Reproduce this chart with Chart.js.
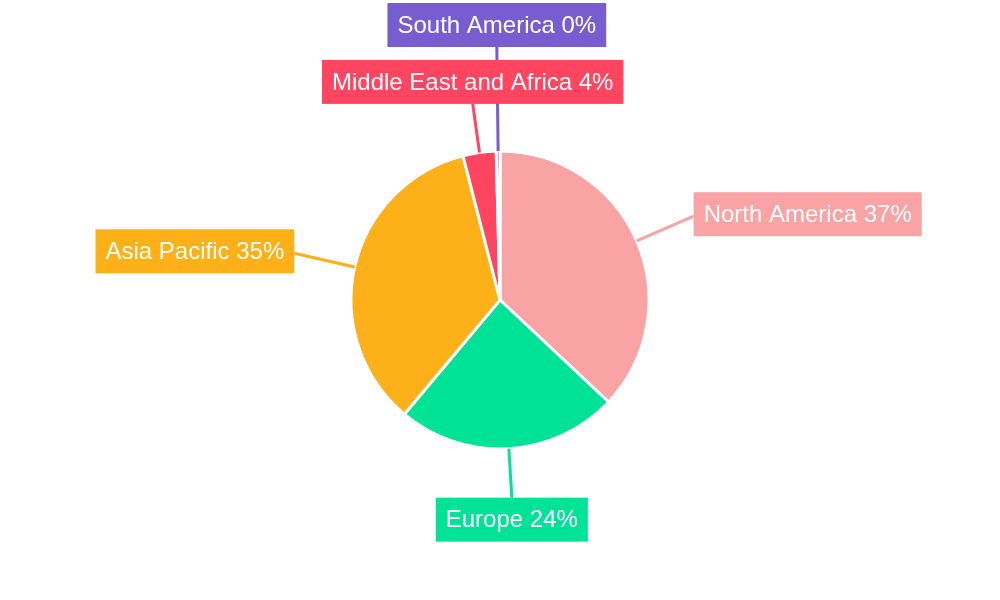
<!DOCTYPE html>
<html>
<head>
<meta charset="utf-8">
<script src="https://cdn.jsdelivr.net/npm/chart.js@4"></script>
<style>
  html, body { margin: 0; padding: 0; background: #fff; }
  #wrap { width: 1000px; height: 600px; }
</style>
</head>
<body>
<div id="wrap"><canvas id="regionChart" width="1000" height="600"></canvas></div>
<script>
const regions = ['North America', 'Europe', 'Asia Pacific', 'Middle East and Africa', 'South America'];
const shares = [37.0, 24.1, 34.9, 3.6, 0.4];
const colors = ['#F9A3A4', '#00E396', '#FEB019', '#FF4560', '#775DD0'];

const outsideLabels = {
  id: 'outside_labels',
  afterDraw: (chart) => {
    const {ctx} = chart;
    const meta = chart.getDatasetMeta(0);
    const total = shares.reduce((a, b) => a + b, 0);
    const placed = [];
    ctx.save();
    ctx.font = '24px "Liberation Sans", Arial, sans-serif';
    // work out every label box first
    meta.data.forEach((arc, i) => {
      const p = arc.getProps(['x', 'y', 'startAngle', 'endAngle', 'outerRadius'], true);
      const mid = (p.startAngle + p.endAngle) / 2;
      const dx = Math.cos(mid), dy = Math.sin(mid);
      const text = `${regions[i]} ${Math.round(shares[i] / total * 100)}%`;
      const w = ctx.measureText(text).width + 20;
      const h = 44;
      const sideways = Math.abs(dx) > Math.abs(dy);
      let r = sideways ? p.outerRadius + 62 : p.outerRadius + 49;
      const makeBox = (rr) => {
        const ax = p.x + dx * rr, ay = p.y + dy * rr;
        let bx, by;
        if (sideways) {
          bx = dx > 0 ? ax : ax - w;
          by = ay - h / 2 - 2;
        } else {
          bx = ax - w / 2;
          by = dy > 0 ? ay : ay - h;
        }
        return {ax, ay, bx, by};
      };
      const hits = (b) => placed.some(o =>
        b.bx < o.bx + o.w && b.bx + w > o.bx && b.by < o.by + o.h + 12 && b.by + h + 12 > o.by);
      let box = makeBox(r);
      while (hits(box) && r < 400) {
        r += 1;
        box = makeBox(r);
      }
      placed.push({
        bx: box.bx, by: box.by, w: w, h: h, ax: box.ax, ay: box.ay,
        sx: p.x + dx * p.outerRadius, sy: p.y + dy * p.outerRadius,
        text: text, color: colors[i]
      });
    });
    // leader lines under the boxes
    ctx.lineWidth = 3;
    placed.forEach(b => {
      ctx.strokeStyle = b.color;
      ctx.beginPath();
      ctx.moveTo(b.sx, b.sy);
      ctx.lineTo(b.ax, b.ay);
      ctx.stroke();
    });
    ctx.textAlign = 'center';
    ctx.textBaseline = 'middle';
    placed.forEach(b => {
      ctx.fillStyle = b.color;
      ctx.fillRect(b.bx, b.by, b.w, b.h);
      ctx.fillStyle = '#fff';
      ctx.fillText(b.text, b.bx + b.w / 2, b.by + b.h / 2 + 1);
    });
    ctx.restore();
  }
};

const config = {
  type: 'pie',
  data: {
    labels: regions,
    datasets: [{
      data: shares,
      backgroundColor: colors,
      borderColor: '#fff',
      borderWidth: 3
    }]
  },
  options: {
    responsive: false,
    animation: false,
    radius: 149,
    plugins: {
      legend: { display: false },
      tooltip: { enabled: false }
    }
  },
  plugins: [outsideLabels]
};

const regionChart = new Chart(document.getElementById('regionChart'), config);
</script>
</body>
</html>
